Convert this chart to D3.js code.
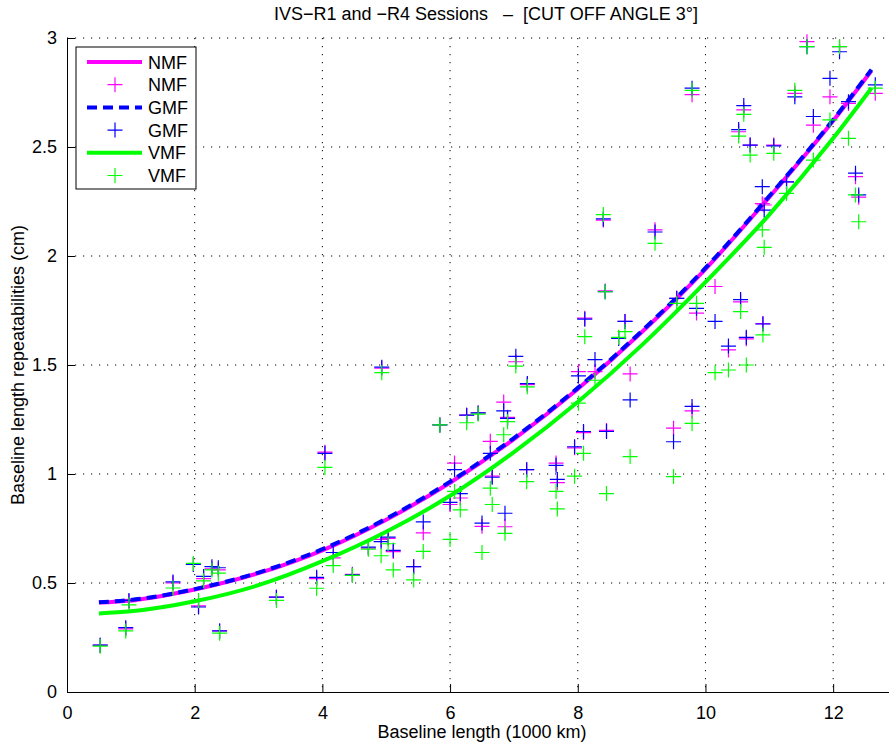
<!DOCTYPE html>
<html>
<head>
<meta charset="utf-8">
<script src="https://cdn.jsdelivr.net/npm/d3@7"></script>
<style>
  body { margin: 0; background: #fff; }
  svg text { font-family: "Liberation Sans", Arial, sans-serif; fill: #000; }
</style>
</head>
<body>
<svg width="889" height="744"></svg>
<script>
// baseline length (1000 km) and repeatabilities (cm) for each mapping function
const baselineKm = [0.52, 0.92, 0.97, 1.66, 1.98, 2.06, 2.14, 2.27, 2.37, 2.39,
  3.28, 3.91, 4.17, 4.04, 4.47, 4.72, 4.92, 4.93, 5.03, 5.11,
  5.43, 5.58, 5.84, 6.0, 6.07, 6.16, 6.26, 6.44, 6.5, 6.63,
  6.66, 6.84, 6.9, 6.86, 7.03, 7.21, 7.2, 7.66, 7.68, 7.95,
  8.01, 8.09, 8.11, 8.27, 8.40, 8.43, 8.45, 8.64, 8.74, 8.82,
  9.21, 9.50, 9.55, 9.79, 9.79, 9.86, 10.15, 10.36, 10.55, 10.64,
  10.9, 10.6, 10.52, 10.7, 11.07, 11.4, 11.59, 12.1, 11.95, 12.24,
  11.69, 12.66, 12.35, 12.4, 10.89, 10.92, 11.27];
const nmfRep = [0.215, 0.29, 0.415, 0.50, 0.585, 0.395, 0.52, 0.565, 0.56, 0.28,
  0.435, 0.52, 0.615, 1.10, 0.54, 0.66, 0.70, 1.485, 0.705, 0.644,
  0.575, 0.73, 1.225, 0.86, 1.05, 0.89, 1.27, 1.28, 0.76, 1.15,
  0.99, 1.33, 1.26, 0.758, 1.515, 1.41, 1.02, 1.05, 0.96, 1.12,
  1.47, 1.19, 1.715, 1.47, 2.165, 1.84, 1.20, 1.625, 1.70, 1.459,
  2.12, 1.21, 1.806, 2.74, 1.29, 1.738, 1.86, 1.569, 1.79, 1.62,
  1.69, 2.67, 2.57, 2.509, 2.509, 2.746, 2.983, 2.96, 2.73, 2.70,
  2.60, 2.746, 2.364, 2.27, 2.24, 2.234, 2.34];
const gmfRep = [0.215, 0.295, 0.42, 0.505, 0.585, 0.39, 0.53, 0.575, 0.57, 0.28,
  0.435, 0.526, 0.64, 1.095, 0.537, 0.665, 0.69, 1.49, 0.71, 0.65,
  0.575, 0.78, 1.225, 0.87, 1.02, 0.91, 1.27, 1.28, 0.775, 1.095,
  0.985, 1.29, 1.255, 0.82, 1.54, 1.415, 1.02, 1.04, 0.975, 1.125,
  1.45, 1.195, 1.71, 1.525, 2.17, 1.836, 1.195, 1.622, 1.70, 1.34,
  2.11, 1.148, 1.806, 2.77, 1.31, 1.76, 1.70, 1.587, 1.80, 1.627,
  1.688, 2.69, 2.58, 2.509, 2.505, 2.73, 2.96, 2.937, 2.815, 2.708,
  2.64, 2.785, 2.38, 2.28, 2.318, 2.21, 2.34];
const vmfRep = [0.21, 0.28, 0.40, 0.477, 0.59, 0.42, 0.51, 0.56, 0.545, 0.27,
  0.42, 0.476, 0.58, 1.03, 0.535, 0.655, 0.625, 1.465, 0.68, 0.56,
  0.514, 0.645, 1.225, 0.70, 0.92, 0.835, 1.235, 1.275, 0.64, 0.935,
  0.86, 1.18, 1.24, 0.728, 1.495, 1.40, 0.965, 0.92, 0.84, 0.99,
  1.325, 1.095, 1.63, 1.43, 2.19, 1.836, 0.91, 1.627, 1.653, 1.08,
  2.058, 0.988, 1.783, 2.76, 1.232, 1.783, 1.465, 1.477, 1.745, 1.50,
  1.638, 2.65, 2.55, 2.463, 2.471, 2.76, 2.96, 2.96, 2.624, 2.54,
  2.44, 2.77, 2.28, 2.157, 2.12, 2.04, 2.287];

// fitted curves
const fitKm = [0.5, 1, 2, 3, 4, 5, 6, 7, 8, 9, 10, 11, 12, 12.6];
const nmfFit = [0.41, 0.42, 0.47, 0.545, 0.65, 0.79, 0.96, 1.16, 1.39, 1.65, 1.94, 2.27, 2.62, 2.85];
const gmfFit = [0.412, 0.422, 0.472, 0.548, 0.655, 0.795, 0.965, 1.165, 1.395, 1.655, 1.945, 2.275, 2.625, 2.855];
const vmfFit = [0.36, 0.37, 0.416, 0.49, 0.60, 0.735, 0.90, 1.10, 1.33, 1.59, 1.88, 2.19, 2.54, 2.77];

const xTicks = [0, 2, 4, 6, 8, 10, 12];
const yTicks = [0, 0.5, 1, 1.5, 2, 2.5, 3];

const svg = d3.select("svg");
const plotLeft = 67, plotRight = 897, plotTop = 38, plotBottom = 692;

const x = d3.scaleLinear().domain([0, 13]).range([plotLeft, plotRight]);
const y = d3.scaleLinear().domain([0, 3]).range([plotBottom, plotTop]);

// grid
const grid = svg.append("g")
  .attr("stroke", "#000")
  .attr("stroke-width", 1)
  .attr("stroke-dasharray", "1.2,6.8");
grid.selectAll(".gx").data(xTicks.slice(1)).join("line")
  .attr("x1", d => x(d)).attr("x2", d => x(d))
  .attr("y1", plotTop).attr("y2", plotBottom);
grid.selectAll(".gy").data(yTicks.slice(1)).join("line")
  .attr("x1", plotLeft).attr("x2", plotRight)
  .attr("y1", d => y(d)).attr("y2", d => y(d));

// axes
const xAxis = d3.axisBottom(x).tickValues(xTicks).tickSizeInner(-8).tickSizeOuter(0).tickPadding(14);
const yAxis = d3.axisLeft(y).tickValues(yTicks).tickSizeInner(-8).tickSizeOuter(0).tickPadding(10)
  .tickFormat(d3.format("~g"));

const gx = svg.append("g").attr("transform", `translate(0,${plotBottom})`).call(xAxis);
const gy = svg.append("g").attr("transform", `translate(${plotLeft},0)`).call(yAxis);
[gx, gy].forEach(g => {
  g.select(".domain").attr("stroke", "#000");
  g.selectAll("text").attr("font-size", 18).attr("font-family", "Liberation Sans, Arial, sans-serif");
});

// series
const series = [
  { name: "NMF", fit: nmfFit, pts: nmfRep, color: "#ff00ff", dash: null },
  { name: "GMF", fit: gmfFit, pts: gmfRep, color: "#0000ff", dash: "10,6" },
  { name: "VMF", fit: vmfFit, pts: vmfRep, color: "#00ff00", dash: null }
];

const line = d3.line()
  .x(d => x(d[0]))
  .y(d => y(d[1]))
  .curve(d3.curveMonotoneX);

const plus = "M-7.5,0H7.5M0,-7.5V7.5";

series.forEach(s => {
  svg.append("path")
    .datum(fitKm.map((k, i) => [k, s.fit[i]]))
    .attr("fill", "none")
    .attr("stroke", s.color)
    .attr("stroke-width", 4)
    .attr("stroke-dasharray", s.dash)
    .attr("d", line);

  svg.append("g").selectAll("path")
    .data(baselineKm.map((k, i) => [k, s.pts[i]]))
    .join("path")
    .attr("transform", d => `translate(${x(d[0])},${y(d[1])})`)
    .attr("d", plus)
    .attr("stroke", s.color)
    .attr("stroke-width", 1.2)
    .attr("fill", "none");
});

// title and labels
svg.append("text")
  .attr("x", 486).attr("y", 20)
  .attr("text-anchor", "middle")
  .attr("font-size", 18)
  .style("white-space", "pre")
  .text("IVS\u2212R1 and \u2212R4 Sessions   \u2013  [CUT OFF ANGLE 3\u00b0]");

svg.append("text")
  .attr("x", (plotLeft + plotRight) / 2).attr("y", 738)
  .attr("text-anchor", "middle")
  .attr("font-size", 18)
  .text("Baseline length (1000 km)");

svg.append("text")
  .attr("transform", `translate(24,${(plotTop + plotBottom) / 2}) rotate(-90)`)
  .attr("text-anchor", "middle")
  .attr("font-size", 18)
  .text("Baseline length repeatabilities (cm)");

// legend
const lg = svg.append("g");
lg.append("rect")
  .attr("x", 76).attr("y", 47).attr("width", 120).attr("height", 142)
  .attr("fill", "#fff").attr("stroke", "#000").attr("stroke-width", 1);

const legendRows = [];
series.forEach(s => {
  legendRows.push({ kind: "line", s });
  legendRows.push({ kind: "mark", s });
});
legendRows.forEach((r, i) => {
  const cy = 62 + i * 22.7;
  if (r.kind === "line") {
    lg.append("line")
      .attr("x1", 87).attr("x2", 142).attr("y1", cy).attr("y2", cy)
      .attr("stroke", r.s.color).attr("stroke-width", 4)
      .attr("stroke-dasharray", r.s.dash);
  } else {
    lg.append("path")
      .attr("transform", `translate(115,${cy})`)
      .attr("d", plus)
      .attr("stroke", r.s.color).attr("stroke-width", 1.2);
  }
  lg.append("text")
    .attr("x", 148).attr("y", cy + 6.5)
    .attr("font-size", 18)
    .text(r.s.name);
});
</script>
</body>
</html>
